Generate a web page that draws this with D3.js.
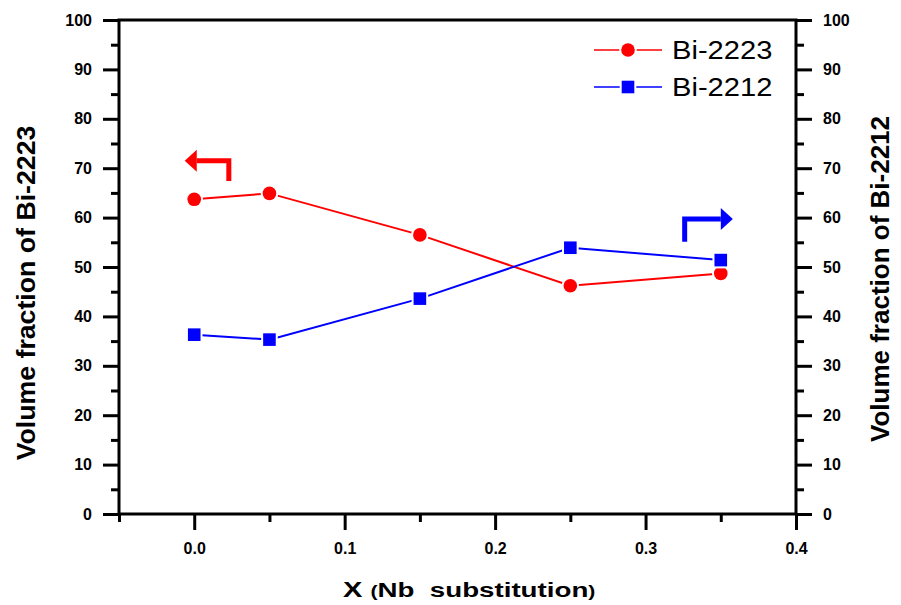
<!DOCTYPE html>
<html>
<head>
<meta charset="utf-8">
<script src="https://cdn.jsdelivr.net/npm/d3@7"></script>
<style>
  body { margin: 0; background: #fff; }
  svg { font-family: "Liberation Sans", Arial, sans-serif; }
  .axis text { font-size: 16px; font-weight: bold; fill: #000; }
  .axis line { stroke: #000; stroke-width: 3; }
  .axis path { display: none; }
</style>
</head>
<body>
<div id="chart"></div>
<script>
// Data
var xValues = [0.0, 0.05, 0.15, 0.25, 0.35];
var bi2223 = [63.7, 64.9, 56.5, 46.2, 48.7];
var bi2212 = [36.3, 35.3, 43.6, 53.9, 51.4];
var seriesNames = ["Bi-2223", "Bi-2212"];
var xMajorTicks = [0.0, 0.1, 0.2, 0.3, 0.4];
var xMinorTicks = [-0.05, 0.05, 0.15, 0.25, 0.35];
var yMajorTicks = [0, 10, 20, 30, 40, 50, 60, 70, 80, 90, 100];
var yMinorTicks = [5, 15, 25, 35, 45, 55, 65, 75, 85, 95];

// Set svg dimensions
const width = 901;
const height = 605;

var svg = d3.select("#chart")
            .append("svg")
                .attr("width", width)
                .attr("height", height);

// Scales
var scaleX = d3.scaleLinear().domain([-0.05, 0.4]).range([119, 796]);
var scaleY = d3.scaleLinear().domain([0, 100]).range([514, 20]);

// Minor ticks (no labels)
svg.append("g").attr("class", "axis")
    .attr("transform", "translate(0,514)")
    .call(d3.axisBottom(scaleX).tickValues(xMinorTicks).tickSize(8).tickFormat(""));
svg.append("g").attr("class", "axis")
    .attr("transform", "translate(119,0)")
    .call(d3.axisLeft(scaleY).tickValues(yMinorTicks).tickSize(8).tickFormat(""));
svg.append("g").attr("class", "axis")
    .attr("transform", "translate(796,0)")
    .call(d3.axisRight(scaleY).tickValues(yMinorTicks).tickSize(8).tickFormat(""));

// Major ticks with labels
svg.append("g").attr("class", "axis")
    .attr("transform", "translate(0,514)")
    .call(d3.axisBottom(scaleX).tickValues(xMajorTicks).tickSize(16).tickPadding(13)
        .tickFormat(d3.format(".1f")));
svg.append("g").attr("class", "axis")
    .attr("transform", "translate(119,0)")
    .call(d3.axisLeft(scaleY).tickValues(yMajorTicks).tickSize(16).tickPadding(11));
svg.append("g").attr("class", "axis")
    .attr("transform", "translate(796,0)")
    .call(d3.axisRight(scaleY).tickValues(yMajorTicks).tickSize(16).tickPadding(11));

// Frame (left, right, bottom, top)
svg.append("rect")
    .attr("x", scaleX(-0.05))
    .attr("y", scaleY(100))
    .attr("width", scaleX(0.4) - scaleX(-0.05))
    .attr("height", scaleY(0) - scaleY(100))
    .attr("fill", "none")
    .attr("stroke", "#000")
    .attr("stroke-width", 3);

// Axis titles
svg.append("text")
    .attr("transform", "translate(35,293) rotate(-90)")
    .attr("text-anchor", "middle")
    .style("font-size", "26.7px")
    .style("font-weight", "bold")
    .text("Volume fraction of Bi-2223");

svg.append("text")
    .attr("transform", "translate(889,279) rotate(-90)")
    .attr("text-anchor", "middle")
    .style("font-size", "26px")
    .style("font-weight", "bold")
    .text("Volume fraction of Bi-2212");

var xTitle = svg.append("text")
    .attr("transform", "translate(343,597) scale(1.32,1)")
    .style("font-weight", "bold")
    .style("white-space", "pre");
xTitle.append("tspan").style("font-size", "22px").text("X ");
xTitle.append("tspan").style("font-size", "16px").text("(");
xTitle.append("tspan").style("font-size", "21px").text("Nb  substitution");
xTitle.append("tspan").style("font-size", "16px").text(")");

// Series
var series = [
    {name: seriesNames[0], values: bi2223, color: "#ff0000", shape: "circle"},
    {name: seriesNames[1], values: bi2212, color: "#0000ff", shape: "square"}
];

var line = d3.line()
    .x(function(d) { return scaleX(d[0]); })
    .y(function(d) { return scaleY(d[1]); });

function drawMarker(g, shape, color, cx, cy) {
    if (shape === "circle") {
        g.append("circle")
            .attr("cx", cx).attr("cy", cy).attr("r", 6.8)
            .attr("fill", color)
            .attr("stroke", "#fff").attr("stroke-width", 4)
            .attr("paint-order", "stroke");
    } else {
        g.append("rect")
            .attr("x", cx - 6.3).attr("y", cy - 6.3)
            .attr("width", 12.6).attr("height", 12.6)
            .attr("fill", color)
            .attr("stroke", "#fff").attr("stroke-width", 4)
            .attr("paint-order", "stroke");
    }
}

series.forEach(function(s) {
    var pts = xValues.map(function(x, i) { return [x, s.values[i]]; });
    svg.append("path")
        .attr("d", line(pts))
        .attr("fill", "none")
        .attr("stroke", s.color)
        .attr("stroke-width", 2);
});

series.forEach(function(s) {
    var g = svg.append("g");
    xValues.forEach(function(x, i) {
        drawMarker(g, s.shape, s.color, scaleX(x), scaleY(s.values[i]));
    });
});

// Legend
series.forEach(function(s, i) {
    var ly = 50 + i * 37;
    var g = svg.append("g");
    g.append("line")
        .attr("x1", 594).attr("x2", 662)
        .attr("y1", ly).attr("y2", ly)
        .attr("stroke", s.color).attr("stroke-width", 1.6);
    drawMarker(g, s.shape, s.color, 628, ly);
    g.append("text")
        .attr("transform", "translate(672," + (ly + 9) + ") scale(1.12,1)")
        .style("font-size", "26px")
        .text(s.name);
});

// Arrows pointing to each series' axis
var arrows = [
    {color: "#ff0000", x: 0.023, yLow: 67.4, yHigh: 71.5, tip: -0.0063, dir: -1},
    {color: "#0000ff", x: 0.326, yLow: 55.1, yHigh: 59.7, tip: 0.358, dir: 1}
];

arrows.forEach(function(a) {
    var x0 = scaleX(a.x);
    var yb = scaleY(a.yLow);
    var yt = scaleY(a.yHigh);
    var xt = scaleX(a.tip);
    var headLen = 12;
    var xb = xt - a.dir * headLen;
    svg.append("path")
        .attr("d", "M" + x0 + "," + yb + "V" + yt + "H" + xb)
        .attr("fill", "none")
        .attr("stroke", a.color)
        .attr("stroke-width", 5)
        .attr("stroke-linejoin", "miter");
    svg.append("path")
        .attr("d", "M" + xt + "," + yt + "L" + xb + "," + (yt - 11) + "L" + xb + "," + (yt + 11) + "Z")
        .attr("fill", a.color);
});
</script>
</body>
</html>
